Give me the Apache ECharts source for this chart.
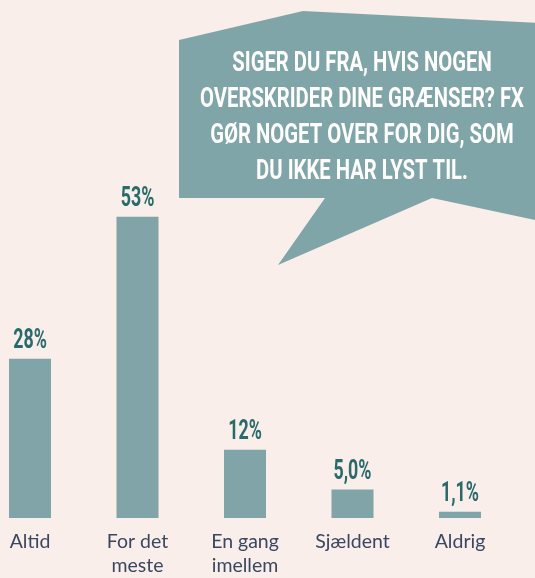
<!DOCTYPE html>
<html>
<head>
<meta charset="utf-8">
<script src="https://cdn.jsdelivr.net/npm/echarts@6/dist/echarts.min.js"></script>
<style>
html,body{margin:0;padding:0;background:#f9eeea;}
#c{width:535px;height:578px;}
</style>
</head>
<body>
<div id="c"></div>
<script>
const categories = ['Altid', 'For det\nmeste', 'En gang\nimellem', 'Sjældent', 'Aldrig'];
const values = [28, 53, 12, 5.0, 1.1];
const valueLabels = ['28%', '53%', '12%', '5,0%', '1,1%'];
const bubbleLines = ['SIGER DU FRA, HVIS NOGEN', 'OVERSKRIDER DINE GRÆNSER? FX', 'GØR NOGET OVER FOR DIG, SOM', 'DU IKKE HAR LYST TIL.'];

const chart = echarts.init(document.getElementById('c'), null, {renderer: 'canvas'});
chart.setOption({
  backgroundColor: '#f9eeea',
  animation: false,
  grid: {left: 30, right: 75, top: 177, bottom: 59, containLabel: false},
  xAxis: {
    type: 'category',
    data: categories,
    boundaryGap: false,
    axisLine: {show: false},
    axisTick: {show: false},
    axisLabel: {
      color: '#3a4761',
      fontFamily: 'Lato, sans-serif',
      fontSize: 19.5,
      lineHeight: 24,
      margin: 12,
      interval: 0
    }
  },
  yAxis: {type: 'value', min: 0, max: 60, show: false, splitLine: {show: false}},
  series: [{
    type: 'bar',
    data: values,
    barWidth: 42,
    itemStyle: {color: '#80a4a8'}
  }, {
    type: 'custom',
    data: values.map((v, i) => [i, v]),
    z: 5,
    renderItem: function (params, api) {
      const pt = api.coord([api.value(0), api.value(1)]);
      return {
        type: 'text',
        x: pt[0],
        y: pt[1] - 4,
        scaleX: 0.66,
        style: {
          text: valueLabels[params.dataIndex],
          font: "bold 27px Roboto, sans-serif",
          fill: '#2a6a6b',
          align: 'center',
          verticalAlign: 'bottom'
        }
      };
    }
  }],
  graphic: [
    {
      type: 'polygon',
      shape: {points: [[179, 40], [303, 11], [540, 23], [540, 221], [432, 198], [278, 265], [325, 198], [179, 198]]},
      style: {fill: '#80a5a8'},
      z: 10
    },
    {
      type: 'text',
      x: 362,
      y: 118,
      scaleX: 0.75,
      style: {
        text: bubbleLines.join('\n'),
        fill: '#ffffff',
        font: "bold 27px Roboto, sans-serif",
        lineHeight: 36,
        align: 'center',
        verticalAlign: 'middle'
      },
      z: 11
    }
  ]
});
</script>
</body>
</html>
